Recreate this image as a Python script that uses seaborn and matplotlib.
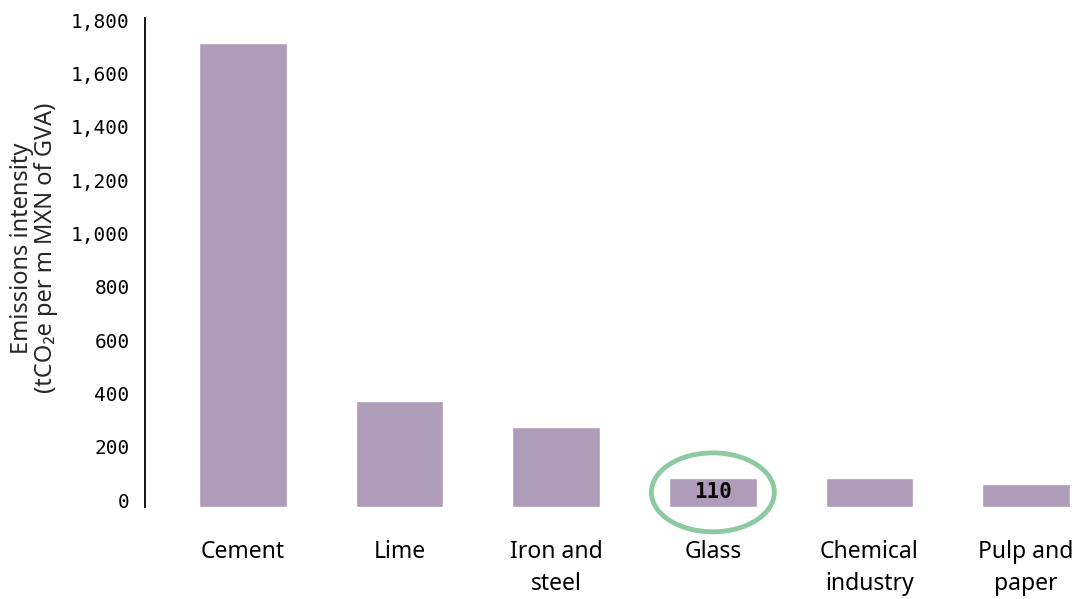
import matplotlib
matplotlib.use("Agg")
import matplotlib.pyplot as plt
import seaborn as sns
from matplotlib.patches import Ellipse
from matplotlib.ticker import FuncFormatter
from matplotlib.transforms import ScaledTranslation

# =========================
# Dados
# =========================
setores = ["Cement", "Lime", "Iron and\nsteel", "Glass", "Chemical\nindustry", "Pulp and\npaper"]
intensidade = [1740, 398, 300, 110, 107, 85]
yticks = [0, 200, 400, 600, 800, 1000, 1200, 1400, 1600, 1800]

COR_BARRA = "#AF9CB9"
COR_ELIPSE = "#8DC9A1"

sns.set_style("white")
plt.rcParams['font.family'] = ['Noto Sans', 'DejaVu Sans']

fig = plt.figure(figsize=(10.76, 5.99), dpi=100)
ax = fig.add_axes([145 / 1076, 1 - 507 / 599, 931 / 1076, (507 - 18) / 599])

sns.barplot(x=setores, y=intensidade, color=COR_BARRA, saturation=1, width=0.56, ax=ax)

ax.set_xlim(-0.626, 5.319)
ax.set_ylim(0, 1834)
ax.set_yticks(yticks)
ax.yaxis.set_major_formatter(FuncFormatter(lambda v, p: f"{int(v):,}"))

ax.tick_params(axis='y', length=0, pad=11, labelcolor='black')
ax.tick_params(axis='x', length=0, pad=24, labelsize=16.5, labelcolor='black')

# rótulos do eixo y um pouco acima, como na referência
desloc = ScaledTranslation(0, 7 / 100, fig.dpi_scale_trans)
for lbl in ax.get_yticklabels():
    lbl.set_fontfamily(['DejaVu Sans Mono'])
    lbl.set_fontsize(14)
    lbl.set_transform(lbl.get_transform() + desloc)
for lbl in ax.get_xticklabels():
    lbl.set_linespacing(1.45)

sns.despine(ax=ax, left=False, bottom=True, top=True, right=True)
ax.spines['left'].set_color('black')
ax.spines['left'].set_linewidth(1.3)

ax.set_ylabel("Emissions intensity\n(tCO₂e per m MXN of GVA)", fontsize=17, labelpad=9,
              linespacing=1.05, y=0.53)

# destaque do vidro
i_glass = setores.index("Glass")
v_glass = intensidade[i_glass]
ax.text(i_glass, v_glass / 2, f"{v_glass}", ha='center', va='center', color='black',
        fontsize=15, fontweight='bold', family=['DejaVu Sans Mono'])
ax.add_patch(Ellipse((i_glass, v_glass / 2), width=0.785, height=296,
                     fill=False, edgecolor=COR_ELIPSE, linewidth=3.5, clip_on=False))

fig.savefig("out.png", dpi=100)
